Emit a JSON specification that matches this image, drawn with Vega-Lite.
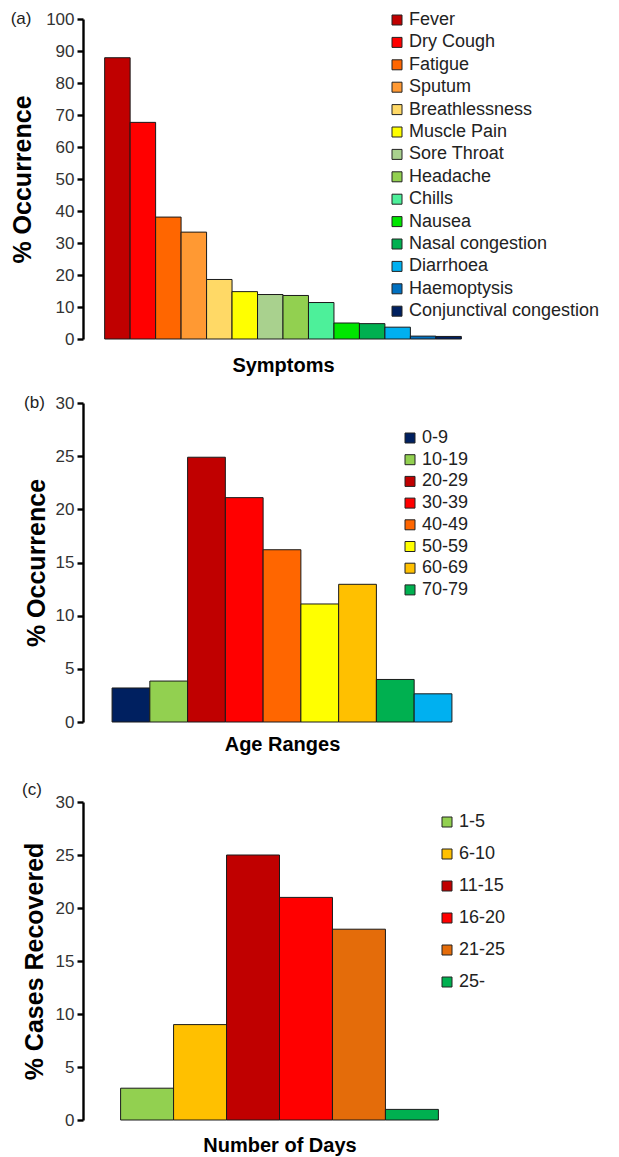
{
  "$schema": "https://vega.github.io/schema/vega-lite/v6.json",
  "padding": {"left": 10, "top": 10, "right": 2, "bottom": 1},
  "columns": 1,
  "align": "none",
  "spacing": 19,
  "resolve": {"scale": {"color": "independent", "x": "independent", "y": "independent"}, "legend": {"color": "independent"}},
  "config": {
    "view": {"stroke": null},
    "font": "Liberation Sans",
    "axis": {"grid": false},
    "axisY": {
      "domainColor": "#000", "domainWidth": 2.4, "tickColor": "#000", "tickWidth": 2.4, "tickSize": 6,
      "labelFontSize": 17, "labelColor": "#333", "labelPadding": 3,
      "titleFontSize": 25, "titleFontWeight": "bold", "titleColor": "#000", "titlePadding": 10
    },
    "axisX": {"labels": false, "ticks": false, "domain": false, "titleFontSize": 20, "titleFontWeight": "bold", "titleColor": "#000", "titlePadding": 12},
    "legend": {
      "symbolType": "square", "symbolSize": 100, "symbolStrokeColor": "#222", "symbolStrokeWidth": 1,
      "labelFontSize": 18, "labelColor": "#222", "labelOffset": 3, "labelLimit": 400
    },
    "title": {"fontSize": 17, "fontWeight": "normal", "color": "#222", "anchor": "start", "frame": "bounds"}
  },
  "concat": [
    {
      "width": 400, "height": 320,
      "title": {"text": "(a)", "dy": 22},
      "data": {"values": [
        {"symptom": "Fever", "pct": 87.9},
        {"symptom": "Dry Cough", "pct": 67.7},
        {"symptom": "Fatigue", "pct": 38.1},
        {"symptom": "Sputum", "pct": 33.4},
        {"symptom": "Breathlessness", "pct": 18.6},
        {"symptom": "Muscle Pain", "pct": 14.8},
        {"symptom": "Sore Throat", "pct": 13.9},
        {"symptom": "Headache", "pct": 13.6},
        {"symptom": "Chills", "pct": 11.4},
        {"symptom": "Nausea", "pct": 5.0},
        {"symptom": "Nasal congestion", "pct": 4.8},
        {"symptom": "Diarrhoea", "pct": 3.7},
        {"symptom": "Haemoptysis", "pct": 0.9},
        {"symptom": "Conjunctival congestion", "pct": 0.8}
      ]},
      "mark": {"type": "bar", "stroke": "#1a1a1a", "strokeWidth": 1},
      "encoding": {
        "x": {"field": "symptom", "type": "nominal", "sort": null, "scale": {"paddingInner": 0, "paddingOuter": 0.85}, "axis": {"title": "Symptoms", "titlePadding": 16}},
        "y": {"field": "pct", "type": "quantitative", "scale": {"domain": [0, 100]}, "axis": {"title": "% Occurrence", "values": [0, 10, 20, 30, 40, 50, 60, 70, 80, 90, 100]}},
        "color": {"field": "symptom", "type": "nominal", "sort": null,
          "scale": {"domain": ["Fever", "Dry Cough", "Fatigue", "Sputum", "Breathlessness", "Muscle Pain", "Sore Throat", "Headache", "Chills", "Nausea", "Nasal congestion", "Diarrhoea", "Haemoptysis", "Conjunctival congestion"],
            "range": ["#C00000", "#FF0000", "#FF6600", "#FF9933", "#FFD966", "#FFFF00", "#A9D18E", "#92D050", "#4DF09A", "#00E600", "#00B050", "#00B0F0", "#0070C0", "#002060"]},
          "legend": {"title": null, "orient": "none", "legendX": 305, "legendY": -8, "rowPadding": 4.4}}
      }
    },
    {
      "width": 398, "height": 319,
      "title": {"text": "(b)", "dy": 22},
      "data": {"values": [
        {"age": "0-9", "pct": 3.2},
        {"age": "10-19", "pct": 3.85},
        {"age": "20-29", "pct": 24.9},
        {"age": "30-39", "pct": 21.1},
        {"age": "40-49", "pct": 16.2},
        {"age": "50-59", "pct": 11.1},
        {"age": "60-69", "pct": 12.95},
        {"age": "70-79", "pct": 4.0},
        {"age": "80-89", "pct": 2.65}
      ]},
      "mark": {"type": "bar", "stroke": "#1a1a1a", "strokeWidth": 1},
      "encoding": {
        "x": {"field": "age", "type": "nominal", "sort": null, "scale": {"paddingInner": 0, "paddingOuter": 0.77}, "axis": {"title": "Age Ranges"}},
        "y": {"field": "pct", "type": "quantitative", "scale": {"domain": [0, 30]}, "axis": {"title": "% Occurrence", "values": [0, 5, 10, 15, 20, 25, 30], "titlePadding": 6}},
        "color": {"field": "age", "type": "nominal", "sort": null,
          "scale": {"domain": ["0-9", "10-19", "20-29", "30-39", "40-49", "50-59", "60-69", "70-79", "80-89"],
            "range": ["#002060", "#92D050", "#C00000", "#FF0000", "#FF6600", "#FFFF00", "#FFC000", "#00B050", "#00B0F0"]},
          "legend": {"title": null, "orient": "none", "legendX": 318, "legendY": 26, "rowPadding": 3.7,
            "values": ["0-9", "10-19", "20-29", "30-39", "40-49", "50-59", "60-69", "70-79"]}}
      }
    },
    {
      "width": 393, "height": 318,
      "title": {"text": "(c)", "dy": 30},
      "data": {"values": [
        {"days": "1-5", "pct": 3.0},
        {"days": "6-10", "pct": 9.0},
        {"days": "11-15", "pct": 25.0},
        {"days": "16-20", "pct": 21.0},
        {"days": "21-25", "pct": 18.0},
        {"days": "25-", "pct": 1.0}
      ]},
      "mark": {"type": "bar", "stroke": "#1a1a1a", "strokeWidth": 1},
      "encoding": {
        "x": {"field": "days", "type": "nominal", "sort": null, "scale": {"paddingInner": 0, "paddingOuter": 0.71}, "axis": {"title": "Number of Days", "titlePadding": 15}},
        "y": {"field": "pct", "type": "quantitative", "scale": {"domain": [0, 30]}, "axis": {"title": "% Cases Recovered", "values": [0, 5, 10, 15, 20, 25, 30], "titlePadding": 8}},
        "color": {"field": "days", "type": "nominal", "sort": null,
          "scale": {"domain": ["1-5", "6-10", "11-15", "16-20", "21-25", "25-"],
            "range": ["#92D050", "#FFC000", "#C00000", "#FF0000", "#E46C0A", "#00B050"]},
          "legend": {"title": null, "orient": "none", "legendX": 315, "legendY": -29, "padding": 40, "rowPadding": 14}}
      }
    }
  ]
}
